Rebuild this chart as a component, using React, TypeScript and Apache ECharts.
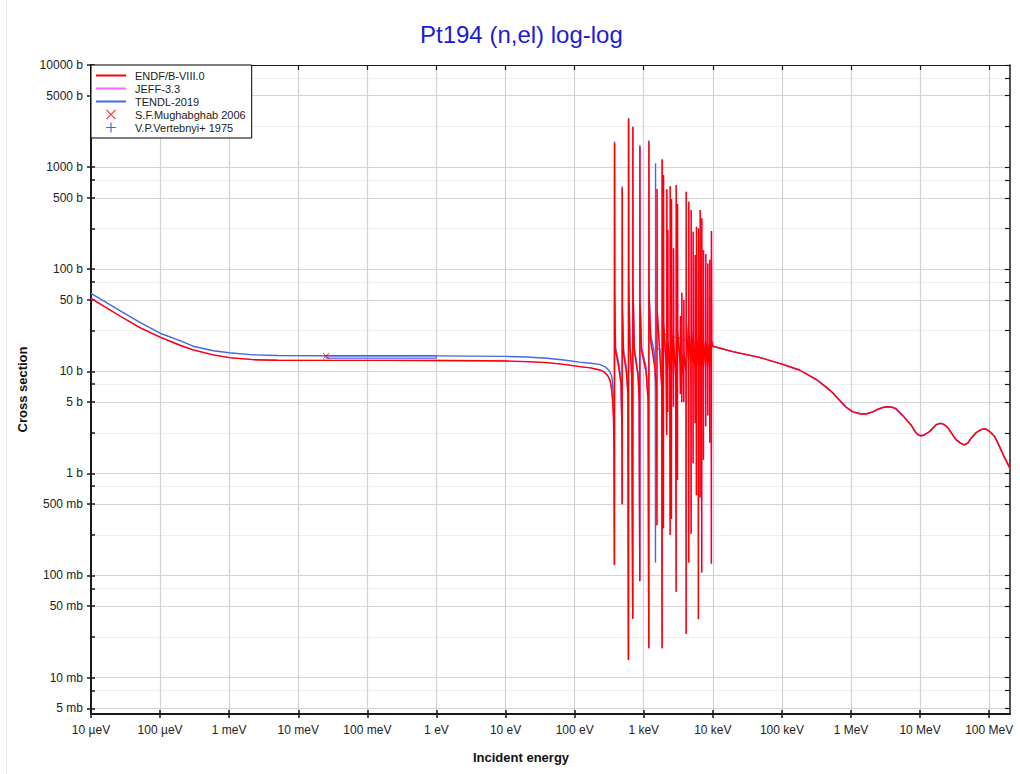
import React, { useEffect, useRef } from "react";
import * as echarts from "echarts";

// ---------- data (energy in eV, cross section in barns) ----------
const titleText = "Pt194 (n,el) log-log";

const xTickValues = [1e-5, 1e-4, 1e-3, 1e-2, 1e-1, 1, 10, 100, 1e3, 1e4, 1e5, 1e6, 1e7, 1e8];
const xTickLabels = ["10 µeV", "100 µeV", "1 meV", "10 meV", "100 meV", "1 eV", "10 eV", "100 eV", "1 keV", "10 keV", "100 keV", "1 MeV", "10 MeV", "100 MeV"];
const xRange = [1e-5, 2e8];

const yMajorValues = [0.005, 0.01, 0.05, 0.1, 0.5, 1, 5, 10, 50, 100, 500, 1000, 5000, 10000];
const yMajorLabels = ["5 mb", "10 mb", "50 mb", "100 mb", "500 mb", "1 b", "5 b", "10 b", "50 b", "100 b", "500 b", "1000 b", "5000 b", "10000 b"];
const yMinorValues = [0.0075, 0.025, 0.075, 0.25, 0.75, 2.5, 7.5, 25, 75, 250, 750, 2500, 7500];
const yRange = [0.0044, 10000];

const endfThermal: [number, number][] = [
  [1e-5, 51.9], [2.62e-5, 34.8], [5.1e-5, 26.8], [1e-4, 21.6], [1.94e-4, 18.0], [3e-4, 16.2],
  [5.87e-4, 14.5], [1e-3, 13.6], [2.22e-3, 13.0], [5e-3, 12.85], [0.0253, 12.8], [0.2, 12.78],
  [1, 12.75], [5, 12.68], [10, 12.6], [20, 12.45], [40, 12.15], [70, 11.7], [118, 11.1],
  [170, 10.8], [230, 10.3], [270, 9.8], [303, 9.0], [325, 8.2], [339, 7.0], [355, 5.2],
  [365, 3.5], [372, 1.5],
];

const endfResonances: [number, number][] = [
  [376.5, 0.127], [378, 1710], [380, 60], [390, 16], [430, 11.5], [470, 7.5],
  [484, 2.5], [488, 0.5], [489, 620], [491, 40], [510, 15], [560, 10], [590, 6],
  [601, 0.0149], [603, 2960], [606, 80], [630, 19], [670, 9],
  [693, 0.0375], [695, 2450], [698, 70], [730, 16], [830, 9], [860, 5],
  [876, 0.088], [879, 1585], [883, 50], [930, 16], [1080, 10], [1160, 5],
  [1182, 0.0194], [1186, 1775], [1192, 60], [1260, 20], [1450, 11], [1530, 6],
  [1552, 0.31], [1557, 610], [1565, 40], [1700, 16], [1820, 7],
  [1846, 0.0194], [1851, 1175], [1860, 40], [1910, 12],
  [1928, 0.29], [1933, 838], [1945, 30], [2100, 12],
  [2150, 2.38], [2158, 607], [2170, 25], [2210, 12],
  [2225, 4.0], [2230, 242], [2245, 20], [2380, 10],
  [2410, 0.249], [2417, 653], [2430, 30], [2500, 10],
  [2516, 0.36], [2523, 484], [2540, 25], [2660, 12],
  [2690, 4.5], [2698, 160], [2715, 20], [2900, 9],
  [2943, 0.0695], [2951, 668], [2965, 30], [3050, 10],
  [3075, 0.86], [3083, 436], [3100, 25], [3350, 12],
  [3395, 6], [3404, 34.8], [3430, 16], [3530, 9],
  [3548, 5], [3557, 58.9], [3580, 15], [3760, 9],
  [3792, 5], [3802, 50], [3830, 15], [4080, 10],
  [4110, 0.0267], [4120, 574], [4140, 30], [4430, 12],
  [4477, 0.134], [4487, 458], [4510, 25], [4800, 12],
  [4852, 0.256], [4864, 380], [4890, 25], [5150, 12],
  [5187, 1.26], [5200, 233], [5230, 20], [5500, 11],
  [5545, 3.1], [5559, 138], [5590, 18], [5760, 10],
  [5786, 0.61], [5800, 261], [5830, 22], [6150, 11],
  [6185, 0.0372], [6200, 251], [6230, 22], [6520, 11],
  [6545, 0.58], [6561, 380], [6600, 24], [6880, 11],
  [6900, 0.107], [6918, 315], [6960, 22], [7280, 11],
  [7310, 1.36], [7328, 154], [7370, 20], [7850, 11],
  [7887, 2.9], [7907, 141], [7950, 20], [8400, 11],
  [8431, 3.7], [8452, 114], [8500, 19], [8980, 11],
  [9013, 2.0], [9036, 124], [9090, 19], [9500, 11],
  [9526, 0.13], [9550, 237], [9620, 20],
];

const tendlThermal: [number, number][] = [
  [1e-5, 58], [2.62e-5, 39.2], [5.1e-5, 30.2], [1e-4, 23.6], [1.94e-4, 20.0], [3e-4, 17.6],
  [5.87e-4, 15.9], [1e-3, 15.2], [2.22e-3, 14.5], [5e-3, 14.3], [0.0253, 14.2], [0.2, 14.18],
  [1, 14.15], [10, 14.0], [20, 13.8], [40, 13.4], [70, 12.9], [118, 12.3], [170, 12.0],
  [230, 11.7], [280, 11.0], [320, 10.0], [340, 9.2], [350, 8.3], [362, 6], [370, 3],
];

const tendlResonances: [number, number][] = [
  [376.5, 0.13], [378, 1780], [380, 62], [390, 17], [430, 12.5], [470, 8.2],
  [484, 2.6], [488, 0.5], [489, 650], [491, 42], [510, 16], [560, 11], [590, 6.5],
  [601, 0.015], [603, 3050], [606, 82], [630, 20], [670, 10],
  [693, 0.038], [695, 2500], [698, 72], [730, 17], [830, 9.5], [860, 5.2],
  [876, 0.09], [879, 1650], [883, 52], [930, 17], [1080, 11], [1160, 5.5],
  [1182, 0.02], [1186, 1830], [1192, 62], [1260, 23], [1400, 16], [1470, 8],
  [1478, 0.134], [1482, 1090], [1490, 40], [1550, 16.5], [1700, 16.5], [1820, 10],
  [1846, 0.02], [1851, 1200], [1860, 40], [1900, 23.3], [2500, 22], [4000, 20.3],
  [6000, 19], [9000, 17.8],
];

const fastRegion: [number, number][] = [
  [10000, 17.6], [19400, 15.6], [47200, 13.7], [1.03e5, 11.7], [1.79e5, 10.3], [3.12e5, 8.35],
  [4.36e5, 7.0], [5.43e5, 6.17], [6.78e5, 5.23], [8.5e5, 4.44], [1.06e6, 4.0], [1.4e6, 3.82],
  [1.65e6, 3.82], [2.06e6, 4.0], [2.57e6, 4.3], [3.0e6, 4.45], [3.39e6, 4.5], [3.9e6, 4.45],
  [4.48e6, 4.3], [5.58e6, 3.7], [7.38e6, 2.98], [8.73e6, 2.5], [9.4e6, 2.38], [1.03e7, 2.34],
  [1.15e7, 2.38], [1.36e7, 2.56], [1.69e7, 2.98], [1.85e7, 3.06], [2.0e7, 3.09], [2.2e7, 3.02],
  [2.5e7, 2.83], [3.3e7, 2.14], [3.9e7, 1.97], [4.36e7, 1.9], [4.9e7, 1.98], [5.45e7, 2.2],
  [6.43e7, 2.5], [7.6e7, 2.68], [8.7e7, 2.74], [1.0e8, 2.6], [1.2e8, 2.3], [1.4e8, 1.85],
  [1.65e8, 1.45], [2.0e8, 1.12],
];

const mughabghabPoints: [number, number][] = [[0.0253, 14.1]];
// energy range (eV) and cross-section band (b)
const vertebnyiBoxes: [number, number, number, number][] = [[0.0253, 1.0, 13.4, 14.3]];

// ---------- styles ----------
const FONT = "Liberation Sans, Arial, Helvetica, sans-serif";
const RED = "#ff0000";
const MAGENTA = "#ff66ff";
const BLUE = "#4169e1";
const DATA_BLUE = "#5060f0";
const CROSS =
  "path://M0,0.8 L0.8,0 L5,4.2 L9.2,0 L10,0.8 L5.8,5 L10,9.2 L9.2,10 L5,5.8 L0.8,10 L0,9.2 L4.2,5 Z";
const PLUS =
  "path://M4.4,0 L5.6,0 L5.6,4.4 L10,4.4 L10,5.6 L5.6,5.6 L5.6,10 L4.4,10 L4.4,5.6 L0,5.6 L0,4.4 L4.4,4.4 Z";
const LINE_ICON = "path://M0,0 L30,0 L30,2 L0,2 Z";

const lg = (v: number) => Math.log10(v);
const toLog = (pts: [number, number][]) => pts.map(([e, s]) => [lg(e), lg(s)]);

const xTicksLog = xTickValues.map(lg);
const yMajorLog = yMajorValues.map(lg);
const yMinorLog = yMinorValues.map(lg);
const yAllLog = [...yMajorLog, ...yMinorLog].sort((a, b) => a - b);

const xFmt = (v: number) => {
  const i = xTicksLog.findIndex((t) => Math.abs(t - v) < 1e-6);
  return i >= 0 ? xTickLabels[i] : "";
};
const yFmt = (v: number) => {
  const i = yMajorLog.findIndex((t) => Math.abs(t - v) < 1e-6);
  return i >= 0 ? yMajorLabels[i] : "";
};

export default function App() {
  const ref = useRef<HTMLDivElement>(null);

  useEffect(() => {
    if (!ref.current) return;
    const chart = echarts.init(ref.current, null, { renderer: "svg" });

    const xMin = lg(xRange[0]);
    const xMax = lg(xRange[1]);
    const yMin = lg(yRange[0]);
    const yMax = lg(yRange[1]);

    const endf = toLog([...endfThermal, ...endfResonances, ...fastRegion]);
    const jeff = toLog([...endfThermal, ...endfResonances, ...fastRegion]);
    const tendl = toLog([...tendlThermal, ...tendlResonances, ...fastRegion]);

    const dark = "#1a1a1a";
    const labelStyle = { fontFamily: FONT, fontSize: 12, color: "#222" };

    const option: any = {
      animation: false,
      backgroundColor: "#ffffff",
      title: {
        text: titleText,
        left: 420,
        top: 22,
        padding: 0,
        textStyle: { fontFamily: FONT, fontSize: 24, fontWeight: "normal", color: "#1c1cd0" },
      },
      grid: { left: 91, right: 10, top: 65, bottom: 60, containLabel: false, outerBoundsMode: "none" },
      legend: {
        left: 91,
        top: 65,
        orient: "vertical",
        itemGap: 0,
        itemWidth: 30,
        itemHeight: 10,
        padding: [4, 6, 4, 5],
        borderColor: "#000",
        borderWidth: 1,
        backgroundColor: "#fff",
        selectedMode: false,
        textStyle: { fontFamily: FONT, fontSize: 11, color: "#222", lineHeight: 13, padding: [0, 0, 0, 4] },
        data: [
          { name: "ENDF/B-VIII.0", icon: LINE_ICON, itemStyle: { color: RED } },
          { name: "JEFF-3.3", icon: LINE_ICON, itemStyle: { color: MAGENTA } },
          { name: "TENDL-2019", icon: LINE_ICON, itemStyle: { color: BLUE } },
          { name: "S.F.Mughabghab 2006", icon: CROSS, itemStyle: { color: RED } },
          { name: "V.P.Vertebnyi+ 1975", icon: PLUS, itemStyle: { color: DATA_BLUE } },
        ],
      },
      xAxis: [
        {
          type: "value",
          position: "bottom",
          min: xMin,
          max: xMax,
          name: "Incident energy",
          nameLocation: "middle",
          nameGap: 37,
          nameTextStyle: { fontFamily: FONT, fontSize: 13, fontWeight: "bold", color: "#111", padding: [0, 59, 0, 0] },
          axisLine: { show: true, onZero: false, lineStyle: { color: dark, width: 2 } },
          axisTick: { show: true, inside: false, length: 4, customValues: xTicksLog, lineStyle: { color: dark, width: 1.5 } },
          axisLabel: { show: true, customValues: xTicksLog, formatter: xFmt, margin: 10, ...labelStyle },
          splitLine: { show: true, lineStyle: { color: "#d2d2d2", width: 1.2 } },
        },
        {
          type: "value",
          position: "bottom",
          min: xMin,
          max: xMax,
          axisLine: { show: false, onZero: false },
          axisTick: { show: true, inside: true, length: 4, customValues: xTicksLog, lineStyle: { color: dark, width: 1.5 } },
          axisLabel: { show: false },
          splitLine: { show: false },
        },
        {
          type: "value",
          position: "top",
          min: xMin,
          max: xMax,
          axisLine: { show: true, onZero: false, lineStyle: { color: dark, width: 1.2 } },
          axisTick: { show: true, inside: true, length: 5, customValues: xTicksLog, lineStyle: { color: dark, width: 1.2 } },
          axisLabel: { show: false },
          splitLine: { show: false },
        },
      ],
      yAxis: [
        {
          type: "value",
          position: "left",
          min: yMin,
          max: yMax,
          name: "Cross section",
          nameLocation: "middle",
          nameGap: 58,
          nameTextStyle: { fontFamily: FONT, fontSize: 13, fontWeight: "bold", color: "#111" },
          axisLine: { show: true, onZero: false, lineStyle: { color: dark, width: 2 } },
          axisTick: { show: true, inside: false, length: 4, customValues: yMajorLog, lineStyle: { color: dark, width: 1.5 } },
          axisLabel: { show: true, customValues: yMajorLog, formatter: yFmt, margin: 8, ...labelStyle },
          splitLine: { show: true, lineStyle: { color: "#d4d4d4", width: 1.2 } },
        },
        {
          type: "value",
          position: "left",
          min: yMin,
          max: yMax,
          axisLine: { show: false, onZero: false },
          axisTick: { show: true, inside: true, length: 4, customValues: yAllLog, lineStyle: { color: dark, width: 1.5 } },
          axisLabel: { show: false },
          splitLine: { show: false },
        },
        {
          type: "value",
          position: "left",
          min: yMin,
          max: yMax,
          axisLine: { show: false, onZero: false },
          axisTick: { show: false, customValues: yMinorLog },
          axisLabel: { show: false },
          splitLine: { show: true, lineStyle: { color: "#efefef", width: 1.2 } },
        },
        {
          type: "value",
          position: "right",
          min: yMin,
          max: yMax,
          axisLine: { show: true, onZero: false, lineStyle: { color: dark, width: 1.5 } },
          axisTick: { show: true, inside: true, length: 5, customValues: yAllLog, lineStyle: { color: dark, width: 1.2 } },
          axisLabel: { show: false },
          splitLine: { show: false },
        },
      ],
      graphic: [
        { type: "line", shape: { x1: 6.5, y1: 0, x2: 6.5, y2: 774 }, style: { stroke: "#ececec", lineWidth: 1 }, silent: true },
      ],
      series: [
        {
          name: "TENDL-2019",
          type: "line",
          data: tendl,
          symbol: "none",
          showSymbol: false,
          lineStyle: { color: BLUE, width: 1.4 },
          itemStyle: { color: BLUE },
          z: 2,
        },
        {
          name: "JEFF-3.3",
          type: "line",
          data: jeff,
          symbol: "none",
          showSymbol: false,
          lineStyle: { color: MAGENTA, width: 1.4 },
          itemStyle: { color: MAGENTA },
          z: 3,
        },
        {
          name: "ENDF/B-VIII.0",
          type: "line",
          data: endf,
          symbol: "none",
          showSymbol: false,
          lineStyle: { color: RED, width: 1.4 },
          itemStyle: { color: RED },
          z: 4,
        },
        {
          name: "V.P.Vertebnyi+ 1975",
          type: "custom",
          z: 5,
          itemStyle: { color: DATA_BLUE },
          data: vertebnyiBoxes.map(([e1, e2, lo, hi]) => [lg(e1), lg(e2), lg(lo), lg(hi)]),
          encode: { x: [0, 1], y: [2, 3] },
          renderItem: (params: any, api: any) => {
            const p1 = api.coord([api.value(0), api.value(3)]);
            const p2 = api.coord([api.value(1), api.value(2)]);
            return {
              type: "rect",
              shape: { x: p1[0], y: p1[1], width: p2[0] - p1[0], height: p2[1] - p1[1] },
              style: { fill: "rgba(80,100,240,0.35)", stroke: "rgba(70,90,235,0.85)", lineWidth: 1 },
            };
          },
        },
        {
          name: "S.F.Mughabghab 2006",
          type: "scatter",
          data: toLog(mughabghabPoints),
          symbol: CROSS,
          symbolSize: 7,
          itemStyle: { color: RED },
          z: 6,
        },
      ],
    };

    chart.setOption(option);
    return () => chart.dispose();
  }, []);

  return (
    <div
      ref={ref}
      style={{ position: "fixed", left: 0, top: 0, width: 1020, height: 774, background: "#fff" }}
    />
  );
}
